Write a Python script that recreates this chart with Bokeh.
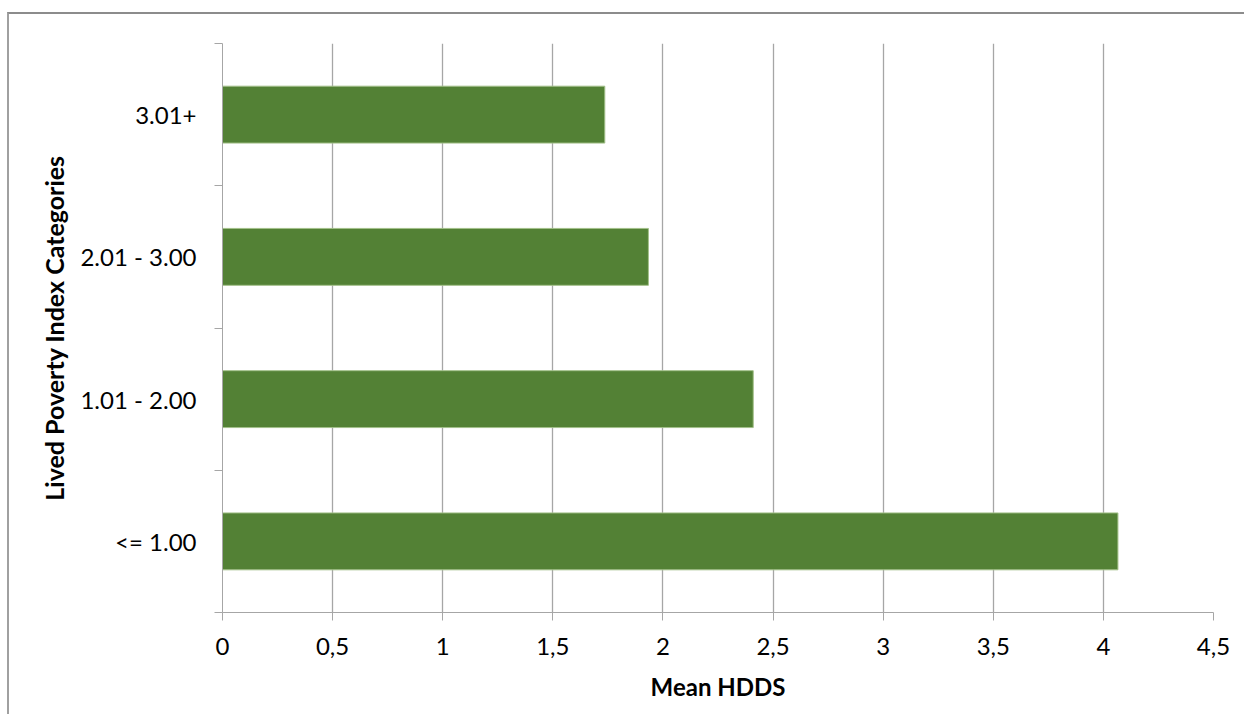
from bokeh.plotting import figure
from bokeh.models import Range1d, FixedTicker, CustomJSTickFormatter
from bokeh.embed import file_html
from bokeh.resources import INLINE

# Mean household dietary diversity score by lived poverty index category
categories = ["<= 1.00", "1.01 - 2.00", "2.01 - 3.00", "3.01+"]
mean_hdds = [4.066, 2.41, 1.934, 1.736]
x_ticks = [0, 0.5, 1, 1.5, 2, 2.5, 3, 3.5, 4, 4.5]

FONT = "Lato"
GRID = "#a6a6a6"

ypos = [i + 0.5 for i in range(len(categories))]

p = figure(
    width=1237, height=702,
    x_range=Range1d(0, 4.5), y_range=Range1d(0, len(categories)),
    output_backend="svg", toolbar_location=None,
    min_border_left=213, min_border_top=29, min_border_right=33, min_border_bottom=104,
)
p.styles = {
    "margin-left": "7px", "margin-top": "12px",
    "border-left": "2px solid #a0a0a0", "border-top": "2px solid #8c8c8c",
}
p.outline_line_color = None
p.background_fill_color = "white"
p.border_fill_color = "white"

p.hbar(y=ypos, right=mean_hdds, left=0, height=0.4,
       fill_color="#538135", line_color="#a3c08a", line_width=1)

# x axis: 0..4.5 with decimal comma
xa = p.xaxis[0]
xa.ticker = FixedTicker(ticks=x_ticks)
xa.formatter = CustomJSTickFormatter(code="return tick.toString().replace('.', ',');")
xa.axis_label = "Mean HDDS"
xa.axis_line_color = GRID
xa.major_tick_line_color = GRID
xa.major_tick_out = 8
xa.major_tick_in = 0
xa.minor_tick_line_color = None
xa.major_label_text_font = FONT
xa.major_label_text_font_size = "24px"
xa.major_label_text_color = "black"
xa.major_label_standoff = 17
xa.axis_label_text_font = FONT
xa.axis_label_text_font_style = "bold"
xa.axis_label_text_font_size = "24px"
xa.axis_label_text_color = "black"
xa.axis_label_standoff = 14

# y axis: category labels centred, tick marks on category boundaries
ya = p.yaxis[0]
ya.ticker = FixedTicker(ticks=ypos, minor_ticks=list(range(len(categories) + 1)))
ya.formatter = CustomJSTickFormatter(args=dict(labels=categories),
                                     code="return labels[Math.floor(tick)];")
ya.axis_label = "Lived Poverty Index Categories"
ya.axis_line_color = GRID
ya.major_tick_line_color = None
ya.major_tick_out = 0
ya.major_tick_in = 0
ya.minor_tick_line_color = GRID
ya.minor_tick_out = 8
ya.minor_tick_in = 0
ya.major_label_text_font = FONT
ya.major_label_text_font_size = "24px"
ya.major_label_text_color = "black"
ya.major_label_standoff = 18
ya.axis_label_text_font = FONT
ya.axis_label_text_font_style = "bold"
ya.axis_label_text_font_size = "25px"
ya.axis_label_text_color = "black"
ya.axis_label_standoff = 8

p.xgrid.ticker = FixedTicker(ticks=x_ticks)
p.xgrid.grid_line_color = GRID
p.xgrid.grid_line_width = 1.3
p.ygrid.grid_line_color = None

open("out.html", "w").write(file_html(p, INLINE))
